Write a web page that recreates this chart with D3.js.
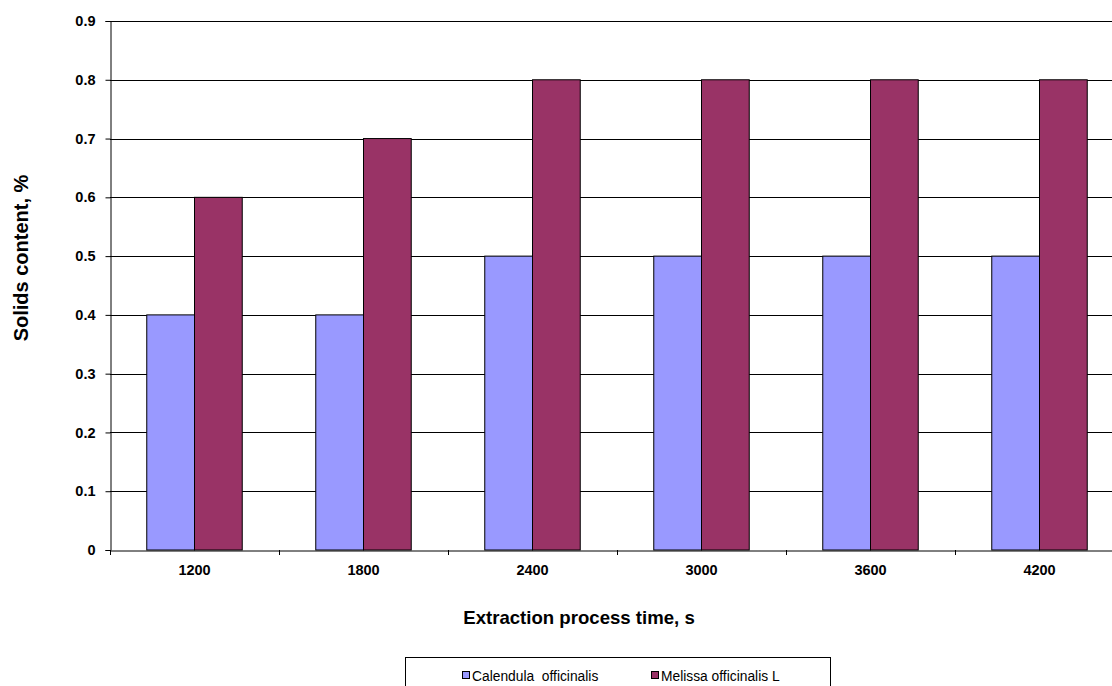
<!DOCTYPE html>
<html>
<head>
<meta charset="utf-8">
<script src="https://cdn.jsdelivr.net/npm/d3@7"></script>
<style>
body { margin: 0; background: #fff; }
svg { display: block; overflow: hidden; }
</style>
</head>
<body>
<script>
// DATA
var categories = ["1200", "1800", "2400", "3000", "3600", "4200"];
var calendula = [0.4, 0.4, 0.5, 0.5, 0.5, 0.5];
var melissa = [0.6, 0.7, 0.8, 0.8, 0.8, 0.8];
var series_names = ["Calendula  officinalis", "Melissa officinalis L"];
var y_ticks = [0, 0.1, 0.2, 0.3, 0.4, 0.5, 0.6, 0.7, 0.8, 0.9];

var width = 1112, height = 686;
var plot = {left: 110, right: 1124, top: 21, bottom: 550};
var colors = ["#9999ff", "#993366"];
var font = "Liberation Sans, Arial, sans-serif";

var svg = d3.select("body").append("svg")
	.attr("width", width)
	.attr("height", height);

var x = d3.scaleBand()
	.domain(categories)
	.range([plot.left, plot.right])
	.paddingInner(0)
	.paddingOuter(0);

var y = d3.scaleLinear()
	.domain([0, 0.9])
	.range([plot.bottom, plot.top]);

var inner = d3.scaleBand()
	.domain([0, 1])
	.range([0, x.bandwidth()])
	.paddingInner(0)
	.paddingOuter(0.77);

// gridlines
svg.append("g")
	.selectAll("line")
	.data(y_ticks.slice(1))
	.enter()
	.append("line")
	.attr("x1", plot.left)
	.attr("x2", plot.right)
	.attr("y1", function(d){ return Math.round(y(d)) + 0.5; })
	.attr("y2", function(d){ return Math.round(y(d)) + 0.5; })
	.attr("stroke", "#000")
	.attr("stroke-width", 1);

// bars
var groups = svg.append("g")
	.selectAll("g")
	.data(categories)
	.enter()
	.append("g")
	.attr("transform", function(d){ return "translate(" + x(d) + ",0)"; });

[calendula, melissa].forEach(function(values, s) {
	groups.append("rect")
		.attr("x", function(d, i){ return inner(s); })
		.attr("y", function(d, i){ return y(values[i]); })
		.attr("width", inner.bandwidth())
		.attr("height", function(d, i){ return plot.bottom - y(values[i]); })
		.attr("fill", colors[s])
		.attr("stroke", "#000")
		.attr("stroke-width", 1);
});

// y axis
var y_axis = svg.append("g")
	.attr("transform", "translate(" + (plot.left + 0.5) + ",0)")
	.call(d3.axisLeft(y).tickValues(y_ticks).tickSize(5).tickPadding(10)
		.tickFormat(function(d){ return d === 0 ? "0" : d3.format(".1f")(d); }));
y_axis.selectAll("text")
	.attr("font-family", font)
	.attr("font-weight", "bold")
	.attr("font-size", "14.5px")
	.attr("fill", "#000");

// x axis
var x_axis = svg.append("g")
	.attr("transform", "translate(0," + (plot.bottom + 0.5) + ")")
	.call(d3.axisBottom(x).tickSize(0).tickPadding(14));
x_axis.select(".domain").attr("stroke", "#000");
x_axis.selectAll("text")
	.attr("font-family", font)
	.attr("font-weight", "bold")
	.attr("font-size", "14.5px")
	.attr("fill", "#000");

// x tick marks between categories
svg.append("g")
	.selectAll("line")
	.data(categories)
	.enter()
	.append("line")
	.attr("x1", function(d){ return Math.round(x(d)) + 0.5; })
	.attr("x2", function(d){ return Math.round(x(d)) + 0.5; })
	.attr("y1", plot.bottom)
	.attr("y2", plot.bottom + 5)
	.attr("stroke", "#000");

// axis titles
svg.append("text")
	.attr("x", 579)
	.attr("y", 624)
	.attr("text-anchor", "middle")
	.attr("font-family", font)
	.attr("font-weight", "bold")
	.attr("font-size", "18.6px")
	.text("Extraction process time, s");

svg.append("text")
	.attr("transform", "translate(28,258) rotate(-90)")
	.attr("text-anchor", "middle")
	.attr("font-family", font)
	.attr("font-weight", "bold")
	.attr("font-size", "20px")
	.text("Solids content, %");

// legend
svg.append("rect")
	.attr("x", 405.5)
	.attr("y", 657.5)
	.attr("width", 425)
	.attr("height", 40)
	.attr("fill", "#fff")
	.attr("stroke", "#000");

var legend_x = [462, 651];
var legend = svg.append("g")
	.selectAll("g")
	.data(series_names)
	.enter()
	.append("g")
	.attr("transform", function(d, i){ return "translate(" + legend_x[i] + ",676)"; });
legend.append("rect")
	.attr("x", 0.5)
	.attr("y", -4.5)
	.attr("width", 7)
	.attr("height", 7)
	.attr("fill", function(d, i){ return colors[i]; })
	.attr("stroke", "#000");
legend.append("text")
	.attr("x", 10)
	.attr("y", 5)
	.attr("font-family", font)
	.attr("font-size", "13.8px")
	.style("white-space", "pre")
	.text(function(d){ return d; });
</script>
</body>
</html>
